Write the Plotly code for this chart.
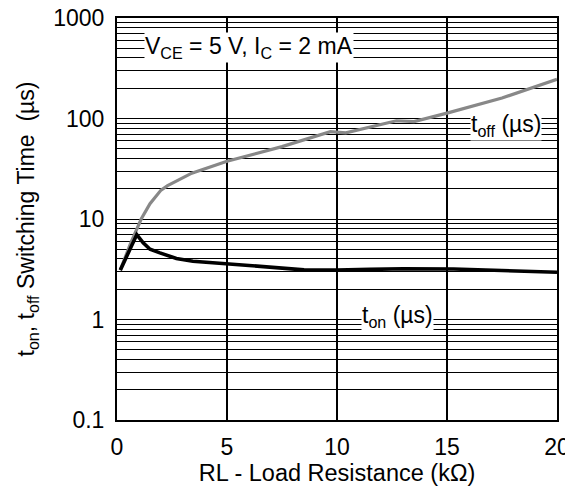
import plotly.graph_objects as go

# Data
rl_toff = [0.15, 0.6, 1.1, 1.5, 2.0, 2.3, 3.4, 5.0, 7.5, 9.7, 10.4, 12.0, 12.7, 13.5, 15.0, 17.5, 20.0]
toff_us = [3.1, 5.6, 10.0, 14.2, 19.4, 21.5, 28.6, 37.5, 52.5, 74.0, 72.0, 87.0, 95.0, 93.0, 113.0, 160.0, 245.0]

rl_ton = [0.15, 0.5, 0.9, 1.19, 1.5, 1.95, 2.7, 3.45, 4.7, 6.0, 8.5, 10.0, 11.5, 13.0, 15.3, 17.5, 20.0]
ton_us = [3.1, 4.6, 7.0, 5.8, 5.0, 4.6, 4.05, 3.8, 3.65, 3.45, 3.12, 3.1, 3.15, 3.2, 3.18, 3.08, 2.95]

x_ticks = [0, 5, 10, 15, 20]
decades = [0.1, 1, 10, 100, 1000]
decade_labels = ["0.1", "1", "10", "100", "1000"]
minor_vals = [m * d for d in decades[:-1] for m in range(2, 10)]

FONT = "Liberation Sans, Arial, sans-serif"

fig = go.Figure()
fig.add_trace(go.Scatter(x=rl_toff, y=toff_us, mode="lines",
                         line=dict(color="#888888", width=3.2), showlegend=False))
fig.add_trace(go.Scatter(x=rl_ton, y=ton_us, mode="lines",
                         line=dict(color="#000000", width=3.6), showlegend=False))

fig.add_annotation(x=6.0, y=2.706, xref="x", yref="y",
                   text="V<sub>CE</sub> = 5 V, I<sub>C</sub> = 2 mA",
                   showarrow=False, bgcolor="white", borderpad=0,
                   font=dict(size=23, color="black", family=FONT))
fig.add_annotation(x=17.7, y=1.934, xref="x", yref="y",
                   text="t<sub>off</sub> (µs)",
                   showarrow=False, bgcolor="white", borderpad=0,
                   font=dict(size=23, color="black", family=FONT))
fig.add_annotation(x=12.75, y=0.025, xref="x", yref="y",
                   text="t<sub>on</sub> (µs)",
                   showarrow=False, bgcolor="white", borderpad=0,
                   font=dict(size=23, color="black", family=FONT))

# page body adds an 8px offset, so the figure is sized to fit the window
fig.update_layout(
    width=565, height=478,
    margin=dict(l=109, r=16, t=10, b=66),
    paper_bgcolor="white", plot_bgcolor="white",
    font=dict(family=FONT, size=23, color="black"),
    xaxis=dict(range=[0, 20], tickvals=x_ticks, ticks="", showgrid=True,
               gridcolor="#000000", gridwidth=1.5, zeroline=False,
               showline=True, linecolor="black", linewidth=2, mirror=True,
               automargin=False, ticklabelstandoff=5, ticklabeloverflow="allow",
               title=dict(text="RL - Load Resistance (kΩ)", standoff=0,
                          font=dict(size=23.5)),
               tickfont=dict(size=23)),
    yaxis=dict(type="log", range=[-1, 3], tickvals=decades, ticktext=decade_labels,
               ticks="", showgrid=True, gridcolor="#000000", gridwidth=1.2,
               minor=dict(tickmode="array", tickvals=minor_vals, ticks="",
                          showgrid=True, gridcolor="#000000", gridwidth=1.2),
               zeroline=False, showline=True, linecolor="black", linewidth=2,
               mirror=True, automargin=False, ticklabelstandoff=6,
               ticklabeloverflow="allow",
               title=dict(text="t<sub>on</sub>, t<sub>off</sub> Switching Time  (µs)",
                          standoff=12, font=dict(size=23)),
               tickfont=dict(size=23)),
)

fig.write_html("out.html")
